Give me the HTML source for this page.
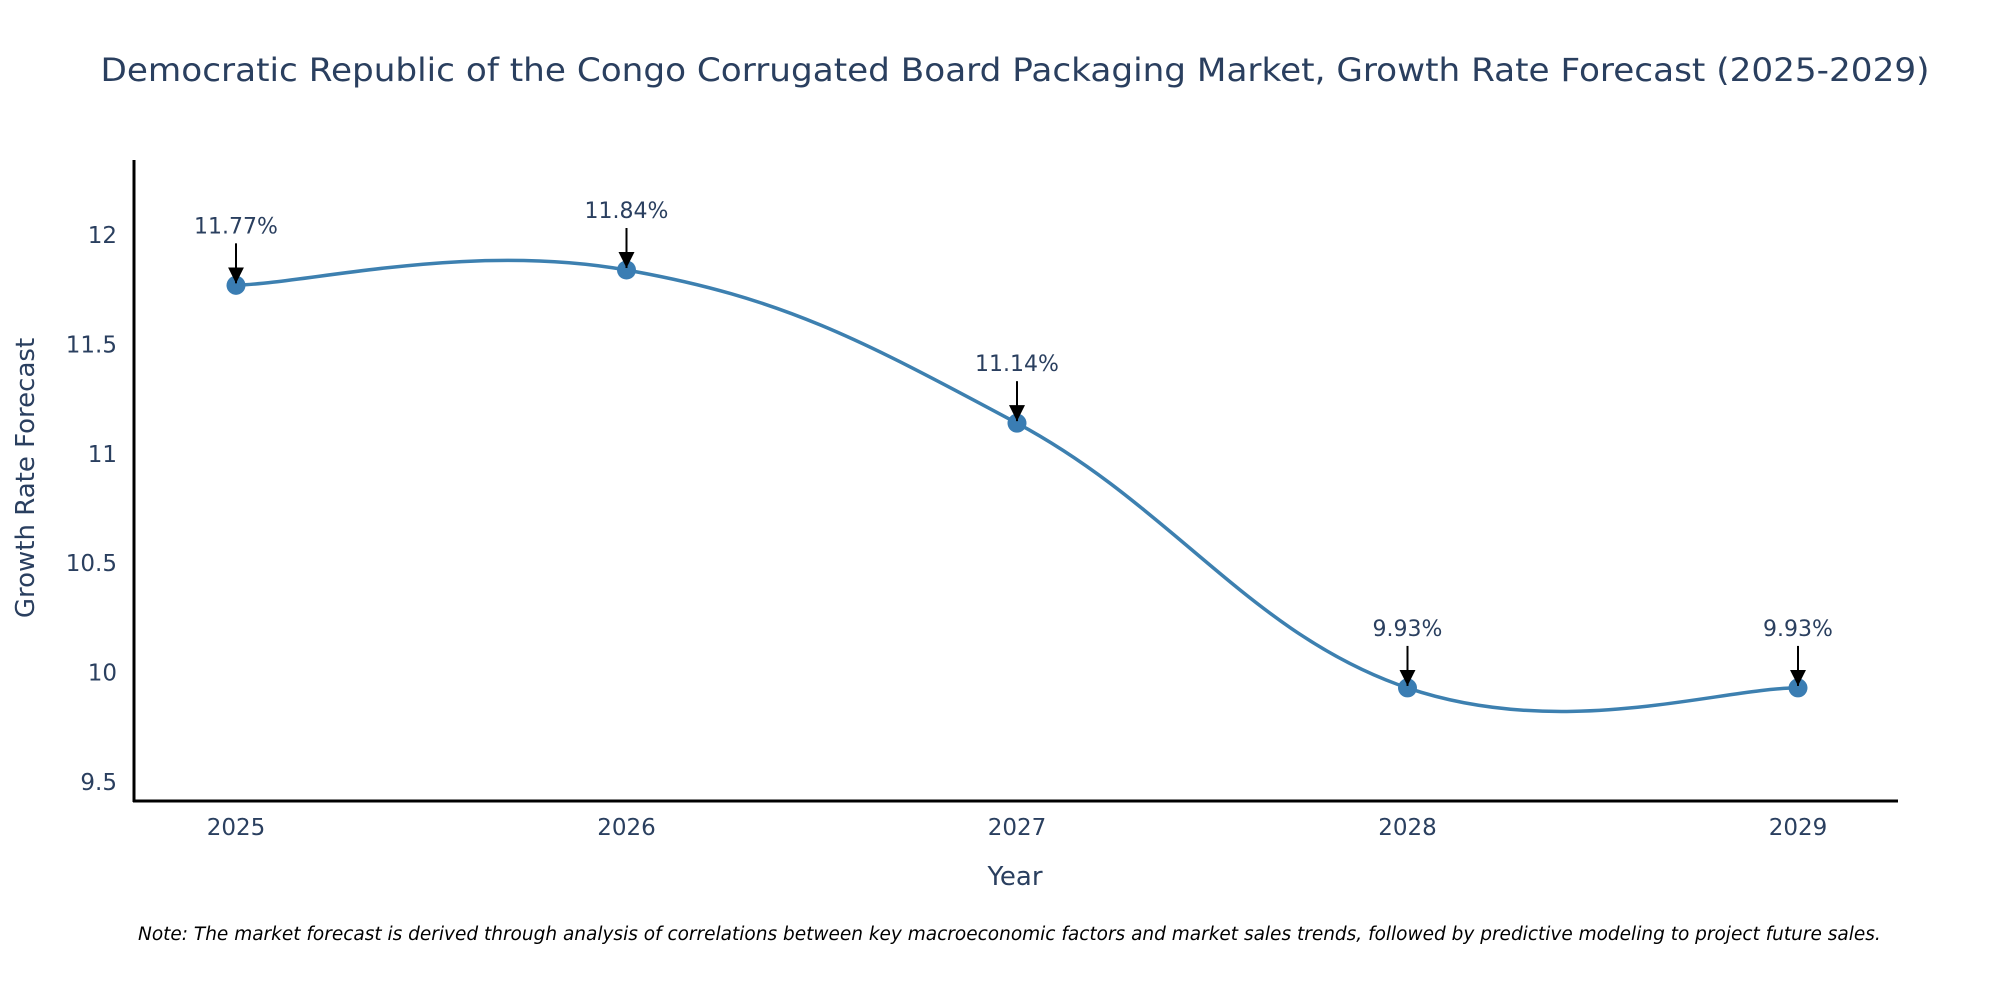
<!DOCTYPE html>
<html><head><meta charset="utf-8"><style>
html,body{margin:0;padding:0;background:#fff;}
svg{display:block;font-family:"DejaVu Sans","Liberation Sans",sans-serif;}
</style></head><body>
<svg id="chart" width="2000" height="1000" viewBox="0 0 2000 1000">
<defs><marker id="ah" viewBox="0 0 10 10" refX="9" refY="5" markerWidth="7" markerHeight="7" markerUnits="userSpaceOnUse" orient="auto"><path d="M0,0 L10,5 L0,10 z" fill="#000"/></marker>
<marker id="ah2" viewBox="0 0 10 10" refX="10" refY="5" markerWidth="16" markerHeight="16" markerUnits="userSpaceOnUse" orient="auto"><path d="M0,0 L10,5 L0,10 z" fill="#000"/></marker></defs>
<text x="1015" y="81" text-anchor="middle" font-size="32" fill="#2a3f5f" textLength="1829" lengthAdjust="spacingAndGlyphs">Democratic Republic of the Congo Corrugated Board Packaging Market, Growth Rate Forecast (2025-2029)</text>
<g id="yticks"></g>
<g id="xticks"></g>
<line x1="134" y1="160" x2="134" y2="802" stroke="#000" stroke-width="3"/>
<line x1="133" y1="801" x2="1898" y2="801" stroke="#000" stroke-width="3"/>
<path id="line" fill="none" stroke="#3d80b0" stroke-width="3.5"/>
<g id="pts"></g>
<g id="ann"></g>
<text x="1015" y="885" text-anchor="middle" font-size="26" fill="#2a3f5f">Year</text>
<text transform="translate(34,478) rotate(-90)" text-anchor="middle" font-size="26" fill="#2a3f5f">Growth Rate Forecast</text>
<text x="138" y="940" font-size="18.5" font-style="italic" fill="#000">Note: The market forecast is derived through analysis of correlations between key macroeconomic factors and market sales trends, followed by predictive modeling to project future sales.</text>
</svg>
<script>
const years=[2025,2026,2027,2028,2029];
const values=[11.77,11.84,11.14,9.93,9.93];
const labels=["11.77%","11.84%","11.14%","9.93%","9.93%"];
const yTicks=[9.5,10,10.5,11,11.5,12];
const yTickLabels=["9.5","10","10.5","11","11.5","12"];
const NS="http://www.w3.org/2000/svg";
function xs(v){return 236+(v-2025)*390.5;}
function ys(v){return 235+(12-v)*218.8;}
function mk(t,a,p){const e=document.createElementNS(NS,t);for(const k in a)e.setAttribute(k,a[k]);p.appendChild(e);return e;}
const yg=document.getElementById('yticks'),xg=document.getElementById('xticks');
yTicks.forEach((v,i)=>{const t=mk('text',{x:117,y:ys(v)+8,'text-anchor':'end','font-size':23,fill:'#2a3f5f'},yg);t.textContent=yTickLabels[i];

});
years.forEach(v=>{const t=mk('text',{x:xs(v),y:835,'text-anchor':'middle','font-size':23,fill:'#2a3f5f'},xg);t.textContent=String(v);

});
const P=years.map((y,i)=>[xs(y),ys(values[i])]);
let d='M'+P[0][0]+','+P[0][1];
for(let i=0;i<P.length-1;i++){const p0=P[Math.max(0,i-1)],p1=P[i],p2=P[i+1],p3=P[Math.min(P.length-1,i+2)];const k=1/5;
const c1=[p1[0]+(p2[0]-p0[0])*k,p1[1]+(p2[1]-p0[1])*k],c2=[p2[0]-(p3[0]-p1[0])*k,p2[1]-(p3[1]-p1[1])*k];
d+=' C'+c1[0]+','+c1[1]+' '+c2[0]+','+c2[1]+' '+p2[0]+','+p2[1];}
document.getElementById('line').setAttribute('d',d);
const pg=document.getElementById('pts'),ag=document.getElementById('ann');
P.forEach((p,i)=>{const c=mk('circle',{cx:p[0],cy:p[1],r:9.5,fill:'#3a7db3'},pg);


const l=mk('line',{x1:p[0],y1:p[1]-42,x2:p[0],y2:p[1]-2,stroke:'#000','stroke-width':2,'marker-end':'url(#ah2)'},ag);


const t=mk('text',{x:p[0],y:p[1]-52,'text-anchor':'middle','font-size':22,fill:'#2a3f5f'},ag);t.textContent=labels[i];

});
</script>
</body></html>
